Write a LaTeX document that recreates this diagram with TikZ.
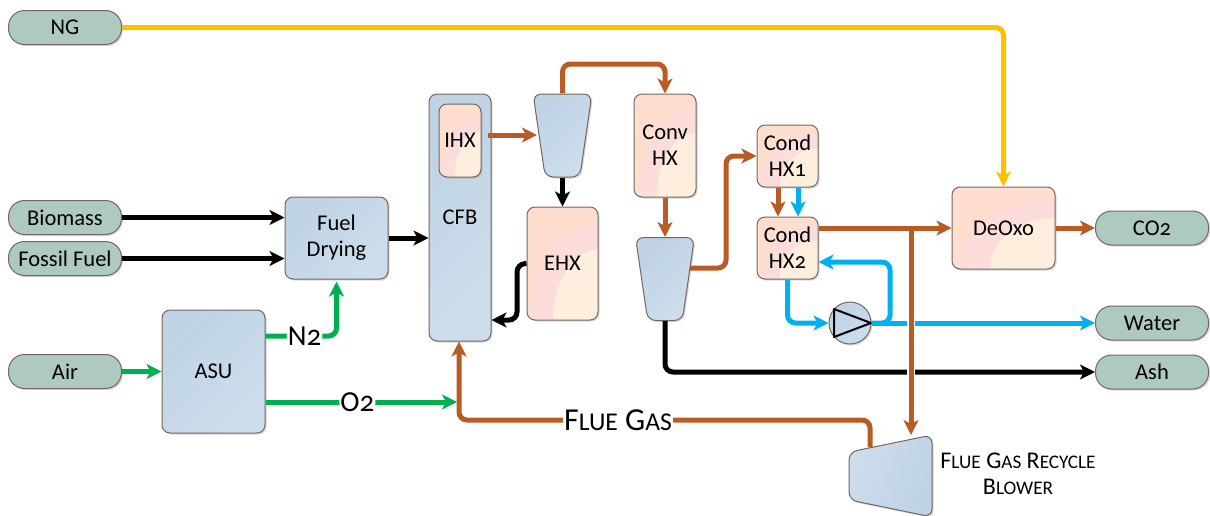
\documentclass[tikz,border=0pt]{standalone}
\usepackage{graphicx}
\usepackage{fontspec}
\setmainfont[Numbers=OldStyle]{Carlito}
\usetikzlibrary{arrows.meta,calc,shadows,shapes.geometric}

\definecolor{ornflow}{HTML}{B95B24}
\definecolor{grnflow}{HTML}{00B050}
\definecolor{bluflow}{HTML}{00B0F0}
\definecolor{yelflow}{HTML}{FFC000}
\definecolor{edgecol}{HTML}{75665F}
\definecolor{bluedark}{HTML}{BFD3E5}
\definecolor{bluelite}{HTML}{CDDDEB}
\definecolor{hxpeach}{HTML}{FDDECF}
\definecolor{hxpink}{HTML}{FDDCDC}
\definecolor{hxcream}{HTML}{FEEEDE}
\definecolor{pillcol}{HTML}{AEC9BF}

\newcommand{\hxlayer}[3]{\fill[#1] let \p1=(path picture bounding box.south east),\p2=(path picture bounding box.north west),
    \n1={\x1-\x2},\n2={\y2-\y1} in (\p1) ellipse [x radius=#2*\n1,y radius=#3*\n2];}
\newcommand{\capword}[2]{#1\scalebox{.8}{#2}}

\tikzset{
    unit/.style={draw=edgecol,line width=1pt,rounded corners=8pt,align=center,inner sep=0pt,
        drop shadow={opacity=.3,shadow xshift=1.5pt,shadow yshift=-1.5pt}},
    bluebox/.style={unit,top color=bluedark,bottom color=bluelite,shading angle=45},
    pill/.style={unit,rounded corners=16pt,fill=pillcol,minimum width=113pt,minimum height=34pt},
    hxbox/.style={unit,fill=hxpeach,path picture={\hxlayer{hxpink}{0.93}{0.85}\hxlayer{hxcream}{0.63}{0.62}}},
    nozzle/.style={bluebox,trapezium,trapezium stretches=true,trapezium left angle=65,trapezium right angle=65,
        shape border rotate=180,minimum width=59pt,minimum height=83pt},
    flow/.style={line width=5pt,rounded corners=8pt,-{Stealth[length=15pt,width=15pt,inset=4pt]}},
    flowlabel/.style={text=black,fill=white,inner xsep=1pt,inner ysep=0pt,font=\fontsize{29}{29}\selectfont},
}

\begin{document}
\begin{tikzpicture}[x=1pt,y=-1pt,font=\fontsize{22.5}{26}\selectfont]
    \useasboundingbox (0,0) rectangle (1210,515);

    % streams in and out
    \node[pill] (ng) at (65,27.5) {NG};
    \node[pill] (biomass) at (65,217.5) {Biomass};
    \node[pill] (fossil) at (65,258.5) {Fossil Fuel};
    \node[pill] (air) at (65,371.5) {Air};
    \node[pill] (co2) at (1152,228) {CO2};
    \node[pill] (water) at (1152,323) {Water};
    \node[pill] (ash) at (1152,372) {Ash};

    % blue units
    \node[bluebox,minimum width=103pt,minimum height=82pt] (drying) at (336.5,238) {Fuel\\Drying};
    \node[bluebox,minimum width=103pt,minimum height=123pt] (asu) at (213.5,371.5) {ASU};
    \node[bluebox,minimum width=62pt,minimum height=247pt] (cfb) at (460,217.5) {CFB};
    \node[nozzle] (cycloneA) at (562.5,135.5) {\phantom{M}};
    \node[nozzle] (cycloneB) at (665,279) {\phantom{M}};
    \node[bluebox,shading angle=-110,trapezium,trapezium stretches=true,trapezium left angle=75,trapezium right angle=75,
        shape border rotate=90,minimum width=82pt,minimum height=83pt] (blower) at (890.5,476) {\phantom{M}};
    \node[bluebox,circle,minimum size=42pt] (pump) at (850,323) {};
    \draw[line width=2pt,line join=round] ([shift={(-16,-14)}]pump.center) -- ([shift={(-16,14)}]pump.center)
        -- ([shift={(21,0)}]pump.center) -- cycle;

    % heat exchangers
    \node[hxbox,minimum width=42pt,minimum height=73pt] (ihx) at (460,140.5) {IHX};
    \node[hxbox,minimum width=71pt,minimum height=113pt] (ehx) at (562.5,263.5) {EHX};
    \node[hxbox,minimum width=62pt,minimum height=103pt] (conv) at (665,145.5) {Conv\\HX};
    \node[hxbox,minimum width=61pt,minimum height=62pt] (condA) at (787.5,156) {Cond\\HX1};
    \node[hxbox,minimum width=61pt,minimum height=62pt] (condB) at (787.5,248) {Cond\\HX2};
    \node[hxbox,minimum width=103pt,minimum height=82pt] (deoxo) at (1003.5,228) {DeOxo};

    \coordinate (flueturn) at (870,420);
    \coordinate (splitpt) at (911,228);
    \coordinate (ihxout) at (488,135);
    \coordinate (blowerin) at (870,447);

    % feeds
    \draw[flow,yelflow] (ng.east) -- (deoxo.north |- ng.east) -- (deoxo.north);
    \draw[flow] (biomass.east) -- (biomass.east -| drying.west);
    \draw[flow] (fossil.east) -- (fossil.east -| drying.west);
    \draw[flow] (drying.east) -- (drying.east -| cfb.west);
    \draw[flow,grnflow] (air.east) -- (asu.west);
    \draw[flow,grnflow] (asu.east |- 0,336) -- (drying.south |- 0,336)
        node[flowlabel,pos=0.55] (ntwo) {N2} -- ([yshift=-2pt]drying.south);

    % flue gas path
    \draw[flow,ornflow] (ihxout) -- (ihxout -| 537,0);
    \draw[flow,ornflow] (cycloneA.north) -- (cycloneA.north |- 0,64) -- (conv.north |- 0,64) -- (conv.north);
    \draw[flow] (cycloneA.south) -- (ehx.north);
    \draw[flow] (ehx.west) -- (517,264) -- (517,320) -- (cfb.east |- 0,320);
    \draw[flow,ornflow] (conv.south) -- (cycloneB.north);
    \draw[flow,ornflow] (690,268) -- (726,268) -- (726,156) -- (condA.west);
    \draw[flow,ornflow] (condA.south -| 778,0) -- (condB.north -| 778,0);
    \draw[flow,bluflow] (condA.south -| 798,0) -- (condB.north -| 798,0);
    \draw[flow,grnflow] (asu.east |- 0,402) -- (457,402)
        node[flowlabel,pos=0.48] (otwo) {O2};
    \draw[flow,ornflow] (blowerin) -- (flueturn) -- (459,420) -- (cfb.south -| 459,0);
    \node[flowlabel,font=\fontsize{32}{32}\selectfont] (fluegas) at (618,420) {\capword{F}{LUE} \capword{G}{AS}};

    % water and ash
    \draw[flow,bluflow] (condB.south) -- (condB.south |- pump.west) -- (pump.west);
    \draw[flow,bluflow] (pump.east) -- (890,323) -- (890,262) -- (condB.east |- 0,262);
    \draw[flow,bluflow] (pump.east) -- (water.west);
    \draw[flow] (cycloneB.south) -- (cycloneB.south |- ash.west) -- (ash.west);

    % recycle branch crosses over the lines above
    \draw[white,line width=8pt] (911,240) -- (911,425);
    \draw[flow,ornflow] (condB.east |- 0,228) -- (deoxo.west);
    \draw[flow,ornflow] (splitpt) -- (911,435);
    \draw[flow,ornflow] (deoxo.east) -- (co2.west);

    \node[font=\fontsize{24}{26}\selectfont,align=center] (blowertext) at (1018,474) {\capword{F}{LUE} \capword{G}{AS} \capword{R}{ECYCLE}\\\capword{B}{LOWER}};
\end{tikzpicture}
\end{document}
